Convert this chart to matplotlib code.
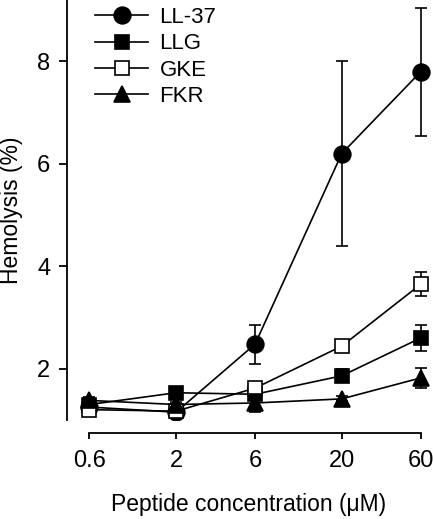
import matplotlib
matplotlib.use('Agg')
import matplotlib.pyplot as plt
from matplotlib.lines import Line2D

plt.rcParams['font.family'] = ['Liberation Sans', 'DejaVu Sans']

conc = [0.6, 2, 6, 20, 60]
tick_labels = ['0.6', '2', '6', '20', '60']

ll37 = [1.25, 1.15, 2.48, 6.2, 7.8]
ll37_err = [0.05, 0.05, 0.38, 1.8, 1.25]
llg = [1.3, 1.53, 1.5, 1.86, 2.6]
llg_err = [0.05, 0.08, 0.08, 0.13, 0.25]
gke = [1.2, 1.17, 1.62, 2.44, 3.65]
gke_err = [0.05, 0.05, 0.06, 0.06, 0.23]
fkr = [1.38, 1.3, 1.33, 1.41, 1.82]
fkr_err = [0.06, 0.05, 0.18, 0.05, 0.2]

names = ['LL-37', 'LLG', 'GKE', 'FKR']
markers = ['o', 's', 's', '^']
sizes = [12, 10, 10, 11]
faces = ['black', 'black', 'white', 'black']

fig = plt.figure(figsize=(4.33, 5.19), dpi=100)
ax = fig.add_axes([0.155, 0.191, 0.84, 0.809])

common = dict(color='black', lw=1.2, capsize=4.5, elinewidth=1.2, capthick=1.2)
series = [(ll37, ll37_err), (llg, llg_err), (gke, gke_err), (fkr, fkr_err)]
handles = []
for i, (vals, errs) in enumerate(series):
    ax.errorbar(conc, vals, yerr=errs, marker=markers[i], ms=sizes[i], mfc=faces[i],
                mew=1.2, zorder=3 + i, **common)
    handles.append(Line2D([], [], color='black', lw=1.2, marker=markers[i], ms=sizes[i],
                          mfc=faces[i], mew=1.2, label=names[i]))

ax.set_xscale('log')
ax.set_xlim(0.44, 69)
ax.set_ylim(1.0, 9.2)
ax.set_xticks(conc)
ax.set_xticklabels(tick_labels)
ax.minorticks_off()
ax.set_yticks([2, 4, 6, 8])

ax.spines['top'].set_visible(False)
ax.spines['right'].set_visible(False)
ax.spines['bottom'].set_position(('outward', 9.5))
ax.spines['bottom'].set_bounds(0.6, 60)
ax.spines['left'].set_linewidth(1.3)
ax.spines['bottom'].set_linewidth(1.3)
ax.tick_params(direction='out', width=1.3, labelsize=17)
ax.tick_params(axis='y', length=6, pad=6)
ax.tick_params(axis='x', length=4.5, pad=8)

ax.set_ylabel('Hemolysis (%)', fontsize=16.5)
ax.yaxis.set_label_coords(-0.121, 0.5)
ax.set_xlabel('Peptide concentration (\u03bcM)', fontsize=16.5, labelpad=15)

ax.legend(handles=handles, loc='upper left', bbox_to_anchor=(0.077, 0.983), frameon=False,
          fontsize=16, handlelength=2.4, labelspacing=0.24, handletextpad=0.5,
          borderpad=0, borderaxespad=0)

fig.savefig('out.png', dpi=100)
